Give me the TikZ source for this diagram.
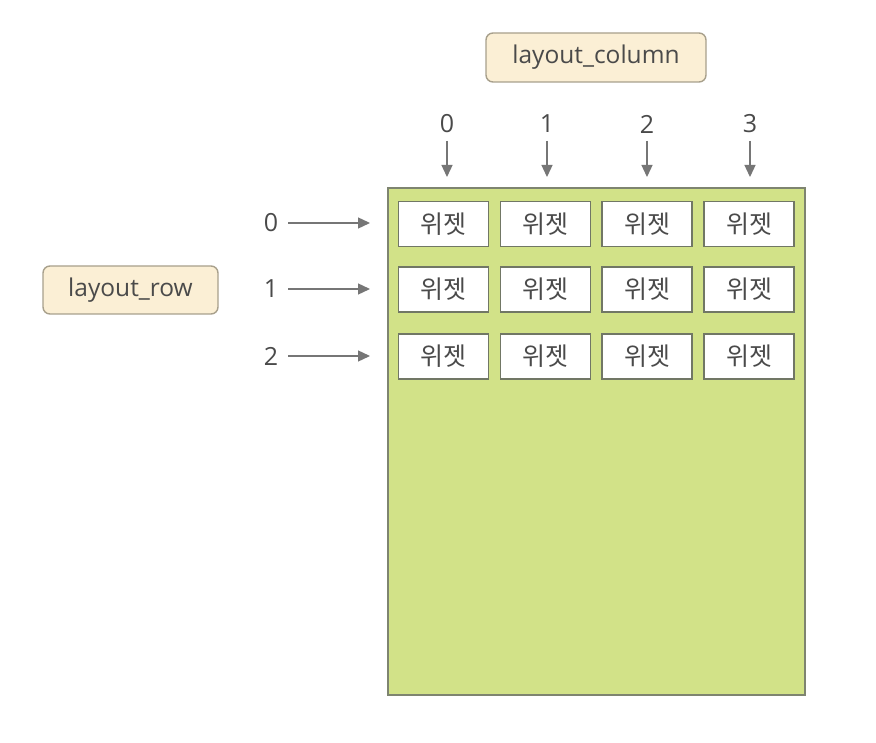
\documentclass[tikz,border=0pt]{standalone}
\usepackage{fontspec}
\setmainfont{Open Sans}
\newfontfamily\kr{Noto Sans CJK KR}
\usetikzlibrary{arrows.meta}
\definecolor{panelfill}{HTML}{D2E288}
\definecolor{panelline}{HTML}{7E8470}
\definecolor{tagfill}{HTML}{FBEFD5}
\definecolor{tagline}{HTML}{A8A08C}
\definecolor{txt}{HTML}{4A4A4A}
\definecolor{arr}{HTML}{767676}
\tikzset{
  x=1pt, y=-1pt,
  panel/.style={draw=panelline, line width=2pt, fill=panelfill, minimum width=417pt, minimum height=507pt, inner sep=0pt},
  widget/.style={draw=panelline!90!black, line width=1.6pt, fill=white, minimum width=90pt, minimum height=45pt, inner sep=0pt, font=\kr\fontsize{25}{28}\selectfont, text=txt},
  tag/.style={draw=tagline, line width=1.4pt, fill=tagfill, rounded corners=7pt, inner sep=0pt, text=txt, font=\fontsize{24.5}{28}\selectfont},
  idx/.style={text=txt, font=\fontsize{25}{28}\selectfont, inner sep=0pt},
  pointer/.style={draw=arr, line width=1.3pt, -{Triangle[length=12pt,width=11pt]}},
}
\begin{document}
\begin{tikzpicture}
\useasboundingbox (0,0) rectangle (876,743);
\fill[white] (0,0) rectangle (876,743);
\node[panel] (panel) at (596.5,441.5) {};
% widgets
\foreach \c/\x in {0/443.5,1/545.5,2/647,3/749}{
  \foreach \r/\y in {0/224,1/289.5,2/356.5}{
    \node[widget] (w\r\c) at (\x,\y) {위젯};
  }
}
% column labels
\node[tag, minimum width=220pt, minimum height=49pt] (lc) at (596,57.5) {layout\_column};
\foreach \c/\x in {0/447,1/547,2/647,3/750}{
  \node[idx] (c\c) at (\x,124) {\c};
  \coordinate (ct\c) at (\x,141);
  \coordinate (ch\c) at (\x,177);
  \draw[pointer] (ct\c) -- (ch\c);
}
% row labels
\node[tag, minimum width=175pt, minimum height=48pt] (lr) at (130.5,290) {layout\_row};
\foreach \r/\y in {0/223,1/289,2/356}{
  \node[idx] (r\r) at (271,\y) {\r};
  \coordinate (rt\r) at (288,\y);
  \coordinate (rh\r) at (370,\y);
  \draw[pointer] (rt\r) -- (rh\r);
}
\end{tikzpicture}
\end{document}
